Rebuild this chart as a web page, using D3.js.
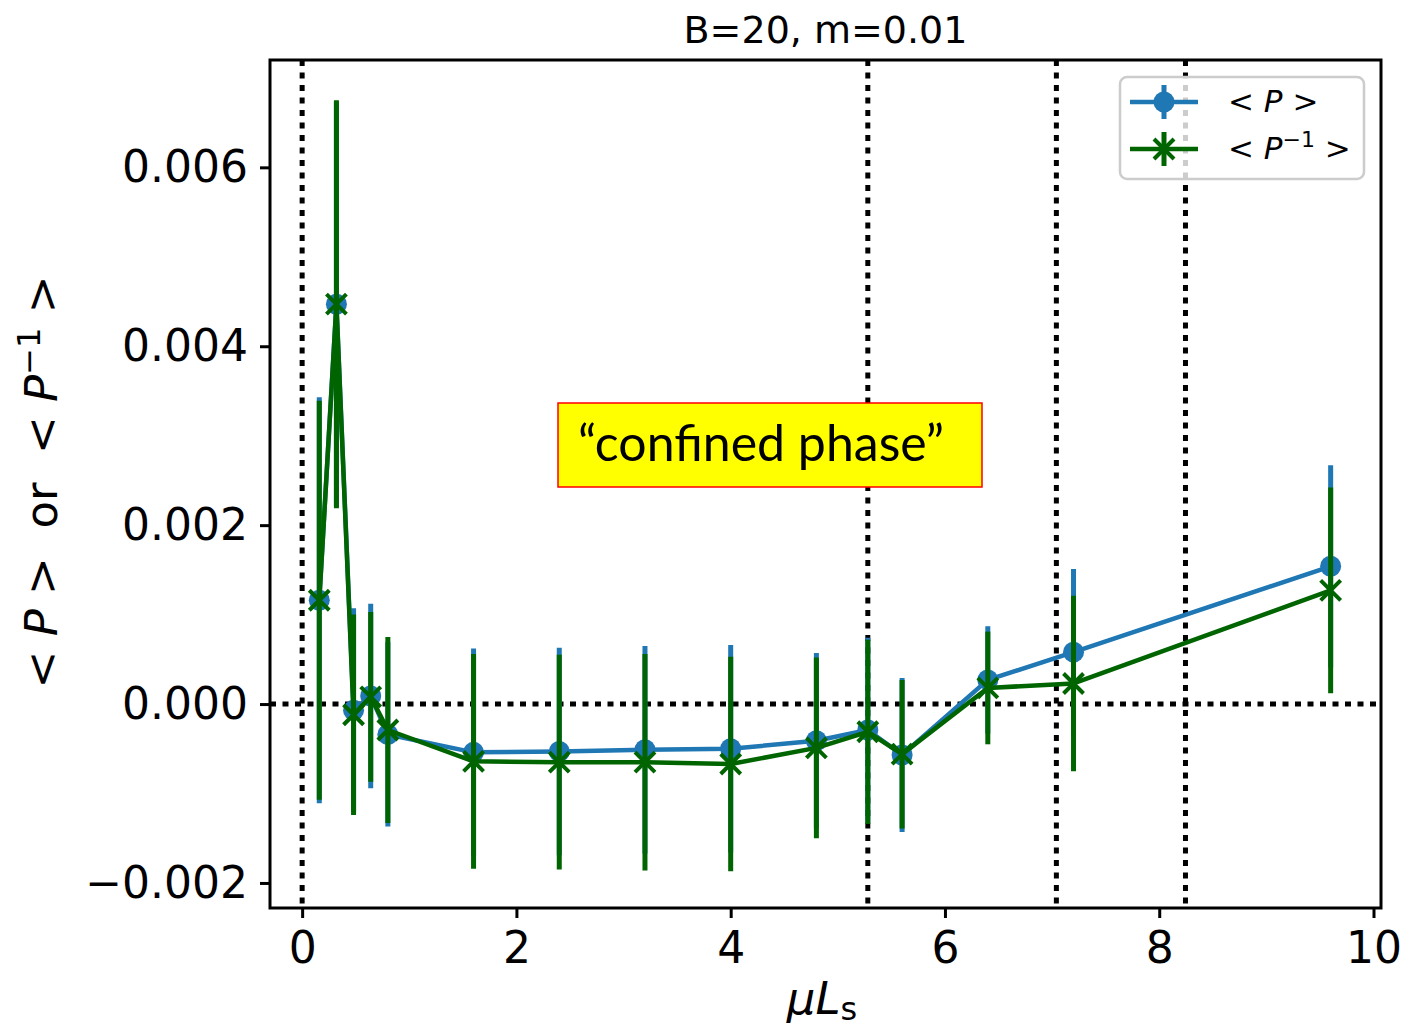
<!DOCTYPE html>
<html>
<head>
<meta charset="utf-8">
<script src="https://cdn.jsdelivr.net/npm/d3@7"></script>
<style>
  body { margin: 0; background: #fff; }
  text { font-family: "DejaVu Sans", sans-serif; }
</style>
</head>
<body>
<div id="chart"></div>
<script>
// <P> and <P^-1> vs mu L_s

const muLs = [0.16, 0.32, 0.48, 0.64, 0.8, 1.6, 2.4, 3.2, 4.0, 4.8, 5.28, 5.6, 6.4, 7.2, 9.6];
const pMean = [0.00116, 0.00447, -0.00007, 0.00009, -0.00034, -0.00054, -0.00053, -0.00051, -0.0005, -0.00041, -0.00029, -0.00057, 0.00027, 0.00058, 0.00154];
const pErr = [0.00227, 0.00226, 0.00114, 0.00103, 0.00103, 0.00116, 0.00116, 0.00116, 0.00116, 0.00098, 0.00103, 0.00086, 0.0006, 0.00093, 0.00113];
const pInvMean = [0.00116, 0.00447, -0.00012, 0.00008, -0.00029, -0.00064, -0.00065, -0.00065, -0.00067, -0.00049, -0.00031, -0.00056, 0.00018, 0.00023, 0.00127];
const pInvErr = [0.00223, 0.00228, 0.00112, 0.00095, 0.00104, 0.0012, 0.0012, 0.00121, 0.0012, 0.00101, 0.00103, 0.00083, 0.00063, 0.00098, 0.00115];
const vLines = [0, 5.28, 7.04, 8.245];
const xTicks = [0, 2, 4, 6, 8, 10];
const yTicks = [-0.002, 0, 0.002, 0.004, 0.006];

const width = 1401,
    height = 1032,
    margin = ({ top: 60, right: 20, bottom: 124, left: 270 });

const svg = d3.select("#chart")
    .append("svg")
    .attr("width", width)
    .attr("height", height)
    .attr("viewBox", [0, 0, width, height]);

const x = d3.scaleLinear()
    .domain([-0.3, 10.07])
    .range([margin.left, width - margin.right]);

const y = d3.scaleLinear()
    .domain([-0.00228, 0.0072])
    .range([height - margin.bottom, margin.top]);

// title
svg.append("text")
    .attr("x", (margin.left + width - margin.right) / 2)
    .attr("y", 43)
    .attr("text-anchor", "middle")
    .attr("font-size", 38)
    .text("B=20, m=0.01");

// dotted reference lines
svg.append("g")
    .selectAll("line")
    .data(vLines)
    .join("line")
    .attr("x1", d => x(d)).attr("x2", d => x(d))
    .attr("y1", margin.top).attr("y2", height - margin.bottom)
    .attr("stroke", "#000")
    .attr("stroke-width", 5)
    .attr("stroke-dasharray", "6 6.5");

svg.append("line")
    .attr("x1", margin.left).attr("x2", width - margin.right)
    .attr("y1", y(0)).attr("y2", y(0))
    .attr("stroke", "#000")
    .attr("stroke-width", 5)
    .attr("stroke-dasharray", "6 6.5");

// annotation box
const ann = svg.append("g");
ann.append("rect")
    .attr("x", 558).attr("y", 403)
    .attr("width", 424).attr("height", 84)
    .attr("fill", "#ffff00")
    .attr("stroke", "#ff0000")
    .attr("stroke-width", 1.5);
ann.append("text")
    .attr("x", 578).attr("y", 461)
    .attr("font-size", 50)
    .style("font-family", "Lato, 'Open Sans', sans-serif")
    .text("\u201Cconfined phase\u201D");

function drawSeries(mean, err, color, marker) {
    const g = svg.append("g");
    const pts = muLs.map((d, i) => ({ x: d, y: mean[i], e: err[i] }));

    g.selectAll("line.err")
        .data(pts)
        .join("line")
        .attr("class", "err")
        .attr("x1", d => x(d.x)).attr("x2", d => x(d.x))
        .attr("y1", d => y(d.y - d.e)).attr("y2", d => y(d.y + d.e))
        .attr("stroke", color)
        .attr("stroke-width", 5);

    g.append("path")
        .datum(pts)
        .attr("fill", "none")
        .attr("stroke", color)
        .attr("stroke-width", 4.5)
        .attr("stroke-linejoin", "round")
        .attr("d", d3.line().x(d => x(d.x)).y(d => y(d.y)));

    if (marker === "o") {
        g.selectAll("circle")
            .data(pts)
            .join("circle")
            .attr("cx", d => x(d.x)).attr("cy", d => y(d.y))
            .attr("r", 10.5)
            .attr("fill", color);
    } else {
        g.selectAll("path.mk")
            .data(pts)
            .join("path")
            .attr("class", "mk")
            .attr("d", d => {
                const cx = x(d.x), cy = y(d.y), s = 10;
                return `M${cx - s},${cy - s}L${cx + s},${cy + s}M${cx - s},${cy + s}L${cx + s},${cy - s}`;
            })
            .attr("stroke", color)
            .attr("stroke-width", 4);
    }
}

drawSeries(pMean, pErr, "#1f77b4", "o");
drawSeries(pInvMean, pInvErr, "#006400", "x");

// axes frame
svg.append("rect")
    .attr("x", margin.left).attr("y", margin.top)
    .attr("width", width - margin.right - margin.left)
    .attr("height", height - margin.bottom - margin.top)
    .attr("fill", "none")
    .attr("stroke", "#000")
    .attr("stroke-width", 3);

const xAxis = svg.append("g")
    .attr("transform", `translate(0,${height - margin.bottom})`)
    .call(d3.axisBottom(x).tickValues(xTicks).tickSize(10).tickPadding(14).tickFormat(d3.format("d")));
const yAxis = svg.append("g")
    .attr("transform", `translate(${margin.left},0)`)
    .call(d3.axisLeft(y).tickValues(yTicks).tickSize(10).tickPadding(12)
        .tickFormat(d => d3.format(".3f")(d).replace("-", "\u2212")));

[xAxis, yAxis].forEach(a => {
    a.select(".domain").remove();
    a.selectAll(".tick line").attr("stroke-width", 3);
    a.selectAll(".tick text").attr("font-size", 44).attr("font-family", "DejaVu Sans").attr("fill", "#000");
});

// axis labels
const xl = svg.append("text")
    .attr("x", 822).attr("y", 1014)
    .attr("text-anchor", "middle")
    .attr("font-size", 45);
xl.append("tspan").attr("font-style", "italic").text("\u03BCL");
xl.append("tspan").attr("font-size", 32).attr("dy", 6).text("s");

const yl = svg.append("text")
    .attr("transform", `translate(57,482) rotate(-90)`)
    .attr("text-anchor", "middle")
    .attr("font-size", 45)
    .attr("xml:space", "preserve");
yl.append("tspan").text("< ");
yl.append("tspan").attr("font-style", "italic").text("P");
yl.append("tspan").text(" >  or  < ");
yl.append("tspan").attr("font-style", "italic").text("P");
yl.append("tspan").attr("font-size", 32).attr("dy", -17).text("\u22121");
yl.append("tspan").attr("dy", 17).text(" >");

// legend
const lg = svg.append("g");
lg.append("rect")
    .attr("x", 1120).attr("y", 77)
    .attr("width", 244).attr("height", 102)
    .attr("rx", 7)
    .attr("fill", "#fff").attr("fill-opacity", 0.8)
    .attr("stroke", "#ccc").attr("stroke-width", 2.5);

const legendItems = [
    { color: "#1f77b4", marker: "o", y: 102, sup: false },
    { color: "#006400", marker: "x", y: 149, sup: true }
];
legendItems.forEach(it => {
    lg.append("line")
        .attr("x1", 1130).attr("x2", 1198)
        .attr("y1", it.y).attr("y2", it.y)
        .attr("stroke", it.color).attr("stroke-width", 4.5);
    lg.append("line")
        .attr("x1", 1164).attr("x2", 1164)
        .attr("y1", it.y - 17).attr("y2", it.y + 17)
        .attr("stroke", it.color).attr("stroke-width", 5);
    if (it.marker === "o") {
        lg.append("circle").attr("cx", 1164).attr("cy", it.y).attr("r", 10.5).attr("fill", it.color);
    } else {
        const s = 10;
        lg.append("path")
            .attr("d", `M${1164 - s},${it.y - s}L${1164 + s},${it.y + s}M${1164 - s},${it.y + s}L${1164 + s},${it.y - s}`)
            .attr("stroke", it.color).attr("stroke-width", 4);
    }
    const t = lg.append("text")
        .attr("x", 1228).attr("y", it.y + 10)
        .attr("font-size", 31)
        .attr("xml:space", "preserve");
    t.append("tspan").text("< ");
    t.append("tspan").attr("font-style", "italic").text("P");
    if (it.sup) {
        t.append("tspan").attr("font-size", 22).attr("dy", -12).text("\u22121");
        t.append("tspan").attr("dy", 12).text(" >");
    } else {
        t.append("tspan").text(" >");
    }
});
</script>
</body>
</html>
